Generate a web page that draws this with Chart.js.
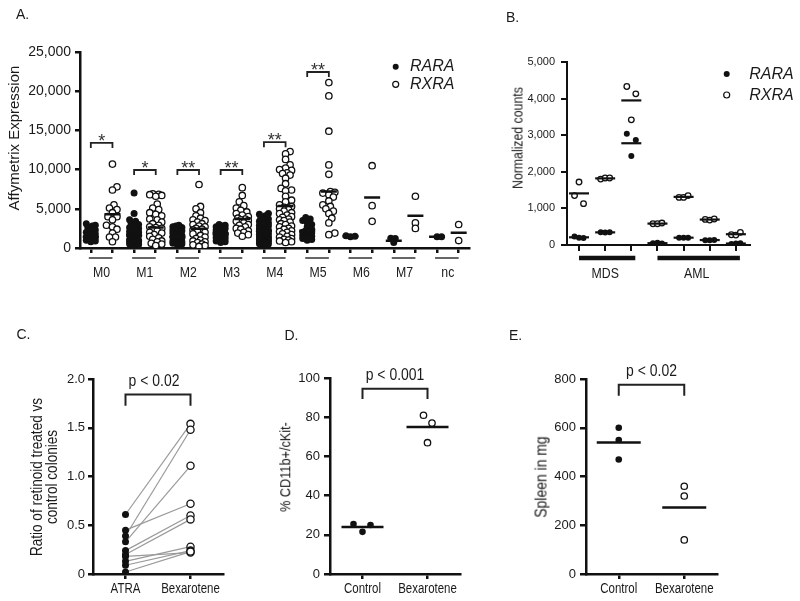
<!DOCTYPE html>
<html>
<head>
<meta charset="utf-8">
<title>Retinoid receptor expression</title>
<script src="https://cdn.jsdelivr.net/npm/chart.js@4.4.1/dist/chart.umd.min.js"></script>
<style>
  html, body { margin: 0; padding: 0; background: #fff; }
  #fig { position: relative; width: 800px; height: 601px; overflow: hidden; background: #fff; }
  #fig canvas { position: absolute; }
  .txt { position: absolute; white-space: nowrap; color: #1a1a1a; line-height: 1; }
</style>
</head>
<body>
<div id="fig">
  <canvas id="chartA" width="480" height="290" style="left:0;top:0"></canvas>
  <canvas id="chartB" width="320" height="290" style="left:480px;top:0"></canvas>
  <canvas id="chartC" width="270" height="311" style="left:0;top:290px"></canvas>
  <canvas id="chartD" width="260" height="311" style="left:270px;top:290px"></canvas>
  <canvas id="chartE" width="270" height="311" style="left:530px;top:290px"></canvas>
</div>
<script>
// ---------- panel A : AML subtypes ----------
const groupsA = ['M0', 'M1', 'M2', 'M3', 'M4', 'M5', 'M6', 'M7', 'nc'];
const seriesNames = ['RARA', 'RXRA'];
const raraA = [
  [3100, 2900, 2800, 2600, 2300, 2200, 2000, 1800, 1700, 1500, 1400, 1300, 1200, 1100, 1000, 900, 800],
  [7000, 4400, 3600, 3400, 3200, 3000, 2800, 2600, 2500, 2300, 2200, 2100, 2000, 1900, 1800, 1700, 1600, 1500, 1400, 1300, 1200, 1100, 1000, 950, 900, 800, 750, 700, 600, 500, 400, 300],
  [2900, 2800, 2700, 2600, 2500, 2400, 2300, 2200, 2100, 2000, 1900, 1800, 1700, 1650, 1600, 1500, 1450, 1400, 1300, 1200, 1100, 1000, 950, 900, 800, 700, 650, 600, 500, 400],
  [3000, 2900, 2800, 2700, 2600, 2500, 2400, 2300, 2200, 2100, 2000, 1900, 1850, 1800, 1750, 1700, 1600, 1500, 1400, 1300, 1200, 1100, 1000, 900, 800, 700],
  [4400, 4300, 4100, 3900, 3700, 3500, 3400, 3200, 3100, 3000, 2900, 2800, 2700, 2600, 2500, 2400, 2350, 2300, 2250, 2200, 2150, 2100, 2000, 1950, 1900, 1850, 1800, 1750, 1700, 1650, 1600, 1500, 1450, 1400, 1300, 1250, 1200, 1150, 1100, 1050, 1000, 950, 900, 850, 800, 750, 700, 650, 600, 550, 500, 450],
  [3900, 3700, 3500, 3300, 3000, 2700, 2400, 2200, 2100, 2000, 1900, 1800, 1700, 1600, 1500, 1400, 1300, 1200, 1100, 1000],
  [1550, 1500, 1450],
  [1250, 1200, 700],
  [1450, 1450]
];
const rxraA = [
  [10700, 7800, 7400, 5500, 5100, 4900, 4500, 4000, 4000, 3600, 2900, 2700, 2400, 1900, 1400, 1400, 800],
  [6900, 6850, 6800, 6700, 6600, 5600, 5100, 4900, 4500, 4300, 4100, 3700, 3600, 3300, 3100, 2900, 2700, 2600, 2500, 2400, 2200, 2000, 1900, 1700, 1500, 1300, 1100, 900, 800, 600, 500, 300],
  [8100, 5300, 5000, 4500, 4100, 3800, 3600, 3500, 3300, 3100, 3000, 2800, 2700, 2500, 2400, 2300, 2100, 2000, 1800, 1600, 1400, 1200, 1000, 900, 800, 700, 500, 400, 300, 200],
  [7700, 6700, 5900, 5400, 5100, 4800, 4600, 4400, 4200, 4000, 3800, 3700, 3600, 3500, 3400, 3200, 3000, 2900, 2700, 2500, 2400, 2200, 2000, 1900, 1700, 1500],
  [12300, 12000, 11300, 10600, 10200, 10000, 9900, 9600, 9500, 9300, 8900, 8200, 7600, 7400, 7300, 6600, 6100, 5900, 5500, 5300, 5200, 5000, 4900, 4700, 4500, 4400, 4200, 4000, 3900, 3700, 3600, 3500, 3300, 3100, 3000, 2800, 2700, 2500, 2400, 2200, 2100, 2000, 1800, 1700, 1500, 1400, 1200, 1100, 1000, 900, 800, 700],
  [21100, 19400, 14900, 10600, 9400, 7200, 7100, 7000, 6800, 6500, 6000, 5500, 5300, 5000, 4700, 4400, 3800, 3200, 1900, 1700],
  [10500, 5400, 3400],
  [6600, 3200, 2500],
  [3000, 950]
];
const raraMeanA = [1450, 1600, 1400, 1850, 2200, 2200, 1500, 930, 1450];
const rxraMeanA = [4300, 2600, 2450, 3700, 5350, 7200, 6450, 4100, 1950];
const yTicksA = [0, 5000, 10000, 15000, 20000, 25000];
const sigGroupA = [0, 1, 2, 3, 4, 5];
const sigTopA = [13400, 9950, 9950, 9950, 13500, 22450];
const sigMarkA = ['*', '*', '**', '**', '**', '**'];

// ---------- panel B : MDS / AML samples ----------
const groupsB = ['MDS', 'AML'];
const groupSpanB = [[0, 2], [3, 6]];
const raraB = [[230, 200, 190], [350, 340, 350], [3040, 2430, 2870], [50, 60, 40], [200, 200, 200], [130, 130, 140], [30, 40, 50]];
const rxraB = [[1350, 1720, 1130], [1800, 1830, 1830], [4330, 3420, 4130], [580, 580, 600], [1300, 1300, 1350], [700, 680, 710], [280, 270, 345]];
const raraMeanB = [210, 345, 2780, 50, 200, 135, 40];
const rxraMeanB = [1410, 1820, 3950, 585, 1315, 695, 295];
const yTicksB = [0, 1000, 2000, 3000, 4000, 5000];

// ---------- panel C : colony ratio ----------
const groupsC = ['ATRA', 'Bexarotene'];
const atraC = [0.61, 0.45, 0.39, 0.33, 0.24, 0.20, 0.18, 0.13, 0.09, 0.02];
const bexC = [1.54, 0.72, 1.48, 1.11, 0.60, 0.56, 0.22, 0.28, 0.24, 0.23];
const yTicksC = [0, 0.5, 1.0, 1.5, 2.0];
const pTextC = 'p < 0.02';

// ---------- panel D : CD11b+/cKit- ----------
const groupsD = ['Control', 'Bexarotene'];
const controlD = [25.5, 21.5, 25];
const bexD = [81, 67, 77];
const meanD = [24, 75];
const yTicksD = [0, 20, 40, 60, 80, 100];
const pTextD = 'p < 0.001';

// ---------- panel E : spleen weight ----------
const groupsE = ['Control', 'Bexarotene'];
const controlE = [600, 550, 470];
const bexE = [360, 320, 140];
const meanE = [540, 273];
const yTicksE = [0, 200, 400, 600, 800];
const pTextE = 'p < 0.02';

// ---------- shared look ----------
const INK = '#111';
const TEXT = '#1a1a1a';
const REG_FAMILY = "'Liberation Sans', Arial, sans-serif";
const NARROW_FAMILY = "'Liberation Sans Narrow', 'Arial Narrow', sans-serif";

const HAS_NARROW = (() => {
  const c = document.createElement('canvas').getContext('2d');
  c.font = '40px monospace';
  const a = c.measureText('Bexarotene MDS').width;
  c.font = "40px 'Liberation Sans Narrow', monospace";
  return Math.abs(c.measureText('Bexarotene MDS').width - a) > 0.5;
})();

Chart.defaults.font.family = REG_FAMILY;
Chart.defaults.color = TEXT;
Chart.defaults.animation = false;
Chart.defaults.events = [];
Chart.defaults.plugins.legend.display = false;
Chart.defaults.plugins.tooltip.enabled = false;

const fig = document.getElementById('fig');

function addText(str, cx, cy, size, opt = {}) {
  const el = document.createElement('div');
  el.className = 'txt';
  el.textContent = str;
  el.style.fontFamily = opt.narrow && HAS_NARROW ? NARROW_FAMILY : REG_FAMILY;
  el.style.fontSize = size + 'px';
  el.style.left = cx + 'px';
  el.style.top = cy + 'px';
  let t = 'translate(-50%,-50%)';
  if (opt.rotate) t += ' rotate(-90deg)';
  if (opt.narrow && !HAS_NARROW) t += ' scaleX(0.82)';
  el.style.transform = t;
  fig.appendChild(el);
}

function drawText(ctx, str, x, y, size, opt = {}) {
  ctx.save();
  ctx.fillStyle = opt.color || TEXT;
  ctx.textAlign = opt.align || 'center';
  ctx.textBaseline = opt.baseline || 'alphabetic';
  const fam = opt.narrow && HAS_NARROW ? NARROW_FAMILY : REG_FAMILY;
  ctx.font = (opt.italic ? 'italic ' : '') + size + 'px ' + fam;
  ctx.translate(x, y);
  if (opt.rotate) ctx.rotate(-Math.PI / 2);
  if (opt.narrow && !HAS_NARROW) ctx.scale(0.82, 1);
  ctx.fillText(str, 0, 0);
  ctx.restore();
}

function drawBracket(ctx, x0, x1, yTop, yLeg, width) {
  ctx.save();
  ctx.strokeStyle = '#222';
  ctx.lineWidth = width;
  ctx.beginPath();
  ctx.moveTo(x0, yLeg);
  ctx.lineTo(x0, yTop);
  ctx.lineTo(x1, yTop);
  ctx.lineTo(x1, yLeg);
  ctx.stroke();
  ctx.restore();
}

function dot(ctx, x, y, r, filled) {
  ctx.save();
  ctx.beginPath();
  ctx.arc(x, y, r, 0, Math.PI * 2);
  ctx.fillStyle = filled ? INK : '#fff';
  ctx.fill();
  if (!filled) { ctx.strokeStyle = INK; ctx.lineWidth = 1.2; ctx.stroke(); }
  ctx.restore();
}

// y axis with fixed box width, ticks exactly at the given values
function axisY(ticks, fmt, size, boxW, tickLen, pad, lw) {
  return {
    type: 'linear',
    min: ticks[0],
    max: ticks[ticks.length - 1],
    afterBuildTicks: s => { s.ticks = ticks.map(v => ({ value: v })); },
    afterFit: s => { s.width = boxW; },
    ticks: { callback: fmt, font: { size }, padding: pad, color: TEXT, autoSkip: false },
    grid: { drawOnChartArea: false, drawTicks: true, tickLength: tickLen, color: INK, lineWidth: lw },
    border: { display: true, color: INK, width: lw }
  };
}

// x axis: tick marks only at the columns, labels drawn by the panel plugin
function axisX(cols, min, max, boxH, tickLen, lw) {
  return {
    type: 'linear',
    min, max,
    afterBuildTicks: s => { s.ticks = cols.map(v => ({ value: v })); },
    afterFit: s => { s.height = boxH; },
    ticks: { display: false },
    grid: { drawOnChartArea: false, drawTicks: true, tickLength: tickLen, color: INK, lineWidth: lw },
    border: { display: true, color: INK, width: lw }
  };
}

// simple beeswarm: offsets in px so the dots of one column do not pile up
function swarmOffsets(vals, perY, diam, maxOff) {
  const order = vals.map((_, i) => i).sort((a, b) => vals[a] - vals[b]);
  const cands = [0];
  for (let s = 1.5; s <= maxOff; s += 1.5) cands.push(s, -s);
  const placed = [];
  const out = new Array(vals.length).fill(0);
  order.forEach(i => {
    const py = vals[i] * perY;
    let best = 0, bestGap = -1;
    for (const c of cands) {
      let gap = Infinity;
      for (const p of placed) gap = Math.min(gap, Math.hypot(p.x - c, p.y - py));
      if (gap >= diam) { best = c; break; }
      if (gap > bestGap) { bestGap = gap; best = c; }
    }
    placed.push({ x: best, y: py });
    out[i] = best;
  });
  return out;
}

const baseOpts = (padTop, padRight) => ({
  responsive: false,
  maintainAspectRatio: false,
  animation: false,
  events: [],
  layout: { padding: { left: 0, top: padTop, right: padRight, bottom: 0 } },
  plugins: { legend: { display: false }, tooltip: { enabled: false } }
});

const filledPts = r => ({ pointRadius: r, pointBackgroundColor: INK, pointBorderColor: INK, pointBorderWidth: 0 });
const openPts = r => ({ pointRadius: r, pointBackgroundColor: '#fff', pointBorderColor: INK, pointBorderWidth: 1.3 });
const meanPts = (r, w) => ({ pointStyle: 'line', pointRadius: r, pointBorderColor: INK, pointBorderWidth: w });

// ================= A =================
const colWA = 390 / 18, perYA = 196 / 25000;
const swarmA = (arrs, side, diam, maxOff) => arrs.flatMap((vals, g) => {
  const off = swarmOffsets(vals, perYA, diam, maxOff);
  return vals.map((v, j) => ({ x: 2 * g + side + off[j] / colWA, y: v }));
});
const colsA = groupsA.flatMap((_, g) => [2 * g, 2 * g + 1]);

new Chart(document.getElementById('chartA'), {
  type: 'scatter',
  data: {
    datasets: [
      { data: raraMeanA.map((v, g) => ({ x: 2 * g, y: v })).concat(rxraMeanA.map((v, g) => ({ x: 2 * g + 1, y: v }))), ...meanPts(8, 2.5) },
      { data: swarmA(raraA, 0, 4, 4.5), ...filledPts(3.5) },
      { data: swarmA(rxraA, 1, 5, 6), ...openPts(3.2) }
    ]
  },
  options: {
    ...baseOpts(52, 10),
    scales: {
      x: axisX(colsA, -0.5, 17.5, 42, 5, 2.5),
      y: axisY(yTicksA, v => v.toLocaleString('en-US'), 14, 80, 5, 4, 2.5)
    }
  },
  plugins: [{
    id: 'panelA',
    afterDraw(chart) {
      const { ctx, chartArea: ca, scales: { x, y } } = chart;
      drawText(ctx, 'Affymetrix Expression', 15, 138, 15, { rotate: true, baseline: 'middle' });
      sigGroupA.forEach((g, i) => {
        const x0 = x.getPixelForValue(2 * g), x1 = x.getPixelForValue(2 * g + 1);
        const yy = y.getPixelForValue(sigTopA[i]);
        drawBracket(ctx, x0, x1, yy, yy + 5, 1.8);
        drawText(ctx, sigMarkA[i], (x0 + x1) / 2, yy + 4, 18, { color: '#333' });
      });
      groupsA.forEach((name, g) => {
        const x0 = x.getPixelForValue(2 * g), x1 = x.getPixelForValue(2 * g + 1);
        ctx.save();
        ctx.strokeStyle = '#666';
        ctx.lineWidth = 2;
        ctx.beginPath();
        ctx.moveTo(x0 - 2, ca.bottom + 10);
        ctx.lineTo(x1, ca.bottom + 10);
        ctx.stroke();
        ctx.restore();
        drawText(ctx, name, (x0 + x1) / 2, ca.bottom + 29, 15, { narrow: true });
      });
      dot(ctx, 395.7, 66.7, 3, true);
      dot(ctx, 395.7, 84.3, 3, false);
      drawText(ctx, seriesNames[0], 410, 70.7, 16, { italic: true, align: 'left' });
      drawText(ctx, seriesNames[1], 410, 89, 16, { italic: true, align: 'left' });
    }
  }]
});

// ================= B =================
const spreadB = [-4.5, 0, 4.5];
const colWB = 183 / 7;
const tripletsB = arrs => arrs.flatMap((vals, g) => vals.map((v, j) => ({ x: g + spreadB[j] / colWB, y: v })));

new Chart(document.getElementById('chartB'), {
  type: 'scatter',
  data: {
    datasets: [
      { data: raraMeanB.map((v, g) => ({ x: g, y: v })).concat(rxraMeanB.map((v, g) => ({ x: g, y: v }))), ...meanPts(10, 2.2) },
      { data: tripletsB(raraB), ...filledPts(3) },
      { data: tripletsB(rxraB), ...openPts(2.8) }
    ]
  },
  options: {
    ...baseOpts(62, 50),
    scales: {
      x: axisX(raraB.map((_, g) => g), -0.46, 6.54, 45, 6, 2),
      y: axisY(yTicksB, v => v.toLocaleString('en-US'), 11, 87, 6, 6, 2)
    }
  },
  plugins: [{
    id: 'panelB',
    afterDraw(chart) {
      const { ctx, chartArea: ca, scales: { x } } = chart;
      groupsB.forEach((name, i) => {
        const [a, b] = groupSpanB[i];
        const x0 = x.getPixelForValue(a), x1 = x.getPixelForValue(b);
        ctx.save();
        ctx.strokeStyle = INK;
        ctx.lineWidth = 4.5;
        ctx.beginPath();
        ctx.moveTo(x0, ca.bottom + 13);
        ctx.lineTo(x1 + 4, ca.bottom + 13);
        ctx.stroke();
        ctx.restore();
        drawText(ctx, name, (x0 + x1) / 2, ca.bottom + 33, 15, { narrow: true });
      });
      dot(ctx, 246.7, 74, 3, true);
      dot(ctx, 246.7, 95, 3, false);
      drawText(ctx, seriesNames[0], 269.3, 79.3, 16, { italic: true, align: 'left' });
      drawText(ctx, seriesNames[1], 269.3, 100.3, 16, { italic: true, align: 'left' });
    }
  }]
});

// ================= C, D, E (two-group panels) =================
function pairPanel(id, cfg) {
  return new Chart(document.getElementById(id), {
    type: 'scatter',
    data: { datasets: cfg.datasets },
    options: {
      ...baseOpts(cfg.top, cfg.right),
      scales: {
        x: axisX([0, 1], -0.5, 1.5, 27, 5, 2.5),
        y: axisY(cfg.ticks, cfg.fmt, 13, cfg.left, cfg.tickLen, cfg.pad, 2.5)
      }
    },
    plugins: [{
      id: id + 'Extras',
      afterDraw(chart) {
        const { ctx, chartArea: ca, scales: { x, y } } = chart;
        const x0 = x.getPixelForValue(0), x1 = x.getPixelForValue(1);
        const yTop = y.getPixelForValue(cfg.bracket[0]), yLeg = y.getPixelForValue(cfg.bracket[1]);
        drawBracket(ctx, x0, x1, yTop, yLeg, 2);
        drawText(ctx, cfg.pText, (x0 + x1) / 2 + cfg.pShift, yTop - 9, 17, { narrow: true });
        cfg.groups.forEach((name, i) => drawText(ctx, name, x.getPixelForValue(i), ca.bottom + 19, 14, { narrow: true }));
      }
    }]
  });
}

const colWPair = 65;
const spreadPts = (vals, col, offs) => vals.map((v, j) => ({ x: col + offs[j] / colWPair, y: v }));

pairPanel('chartC', {
  top: 89, right: 47, left: 93, tickLen: 5, pad: 3,
  ticks: yTicksC, fmt: v => (v === 0 ? '0' : v.toFixed(1)),
  bracket: [1.84, 1.726], pText: pTextC, pShift: -4, groups: groupsC,
  datasets: [
    { data: atraC.map(v => ({ x: 0, y: v })), ...filledPts(3.5) },
    { data: bexC.map(v => ({ x: 1, y: v })), ...openPts(3.6) },
    ...atraC.map((a, i) => ({
      data: [{ x: 0, y: a }, { x: 1, y: bexC[i] }],
      showLine: true, borderColor: '#9a9a9a', borderWidth: 1.2, pointRadius: 0
    }))
  ]
});

pairPanel('chartD', {
  top: 88, right: 70, left: 60, tickLen: 6, pad: 4,
  ticks: yTicksD, fmt: v => String(v),
  bracket: [94.5, 89.3], pText: pTextD, pShift: 0, groups: groupsD,
  datasets: [
    { data: meanD.map((v, i) => ({ x: i, y: v })), ...meanPts(21, 2.5) },
    { data: spreadPts(controlD, 0, [-9, 0, 8]), ...filledPts(3.3) },
    { data: spreadPts(bexD, 1, [-4, 0, 4.5]), ...openPts(3.2) }
  ]
});

pairPanel('chartE', {
  top: 89, right: 83, left: 56, tickLen: 6, pad: 4,
  ticks: yTicksE, fmt: v => String(v),
  bracket: [776, 731], pText: pTextE, pShift: 0, groups: groupsE,
  datasets: [
    { data: meanE.map((v, i) => ({ x: i, y: v })), ...meanPts(22, 2.5) },
    { data: spreadPts(controlE, 0, [0, 0, 0]), ...filledPts(3.3) },
    { data: spreadPts(bexE, 1, [0, 0, 0]), ...openPts(3.2) }
  ]
});

// ---------- panel letters and axis titles ----------
addText('A.', 22.6, 14.3, 14);
addText('B.', 512.6, 16.7, 14);
addText('C.', 23.5, 334.3, 14);
addText('D.', 291.5, 335, 14);
addText('E.', 515.5, 335.3, 14);

addText('Normalized counts', 516.5, 137.7, 15, { rotate: true, narrow: true });
addText('Ratio of retinoid treated vs', 36, 477, 16.5, { rotate: true, narrow: true });
addText('control colonies', 51, 477, 16.5, { rotate: true, narrow: true });
addText('% CD11b+/cKit-', 284.5, 466.7, 15.5, { rotate: true, narrow: true });
addText('Spleen in mg', 541, 476.7, 17, { rotate: true, narrow: true });
</script>
</body>
</html>
